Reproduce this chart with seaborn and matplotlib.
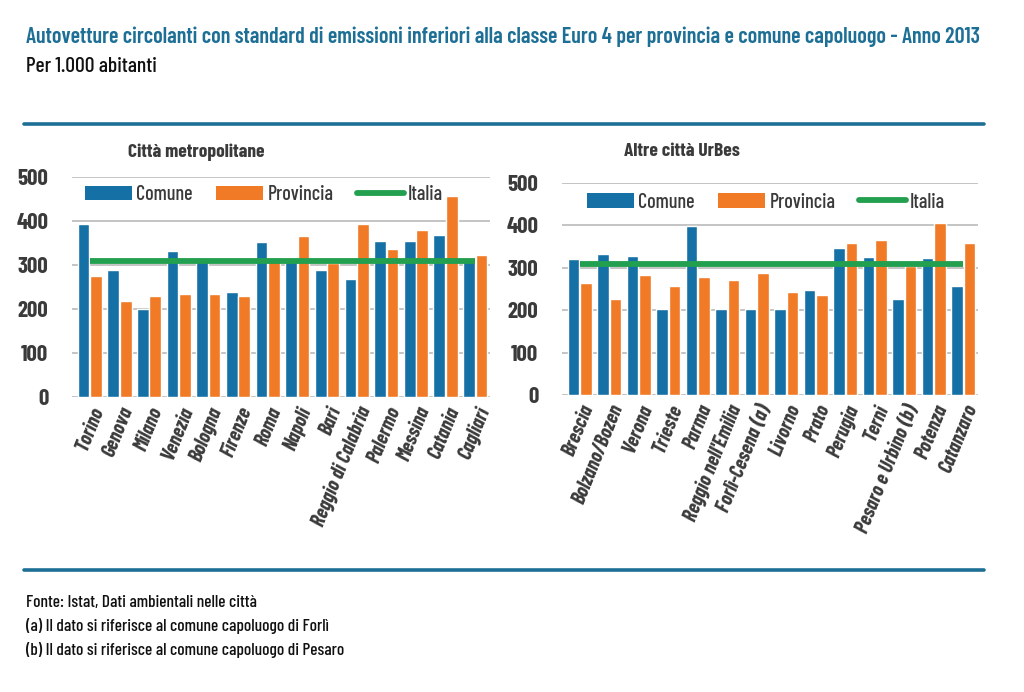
import matplotlib
matplotlib.use("Agg")
import matplotlib.pyplot as plt
import seaborn as sns
import pandas as pd
from matplotlib.patches import Patch
from matplotlib.lines import Line2D
from matplotlib import font_manager as fm

# ---------------- data ----------------
metro_cities = ["Torino", "Genova", "Milano", "Venezia", "Bologna", "Firenze", "Roma",
                "Napoli", "Bari", "Reggio di Calabria", "Palermo", "Messina", "Catania", "Cagliari"]
metro_comune = [393, 288, 201, 332, 308, 239, 353, 310, 288, 268, 355, 355, 368, 310]
metro_provincia = [276, 218, 230, 234, 234, 230, 312, 366, 305, 393, 336, 380, 456, 323]

other_cities = ["Brescia", "Bolzano/Bozen", "Verona", "Trieste", "Parma", "Reggio nell'Emilia",
                "Forlì-Cesena (a)", "Livorno", "Prato", "Perugia", "Terni",
                "Pesaro e Urbino (b)", "Potenza", "Catanzaro"]
other_comune = [320, 332, 328, 202, 398, 204, 202, 204, 248, 346, 326, 227, 322, 258]
other_provincia = [265, 227, 284, 257, 279, 272, 288, 244, 235, 358, 366, 305, 406, 358]

italia_value = 310
series_names = ["Comune", "Provincia", "Italia"]
y_ticks = [0, 100, 200, 300, 400, 500]

title = "Autovetture circolanti con standard di emissioni inferiori alla classe Euro 4 per provincia e comune capoluogo - Anno 2013"
subtitle = "Per 1.000 abitanti"
panel_titles = ["Città metropolitane", "Altre città UrBes"]
notes = ["Fonte: Istat, Dati ambientali nelle città",
         "(a) Il dato si riferisce al comune capoluogo di Forlì",
         "(b) Il dato si riferisce al comune capoluogo di Pesaro"]

# ---------------- style ----------------
sns.set_theme(style="white")
available = {f.name for f in fm.fontManager.ttflist}
fam = [f for f in ["Barlow Condensed", "Barlow Semi Condensed", "DejaVu Sans"] if f in available]
plt.rcParams["font.family"] = fam

C_BLUE = "#1570a6"
C_ORANGE = "#f07a26"
C_GREEN = "#23a04f"
C_TITLE = "#1d6f96"
C_TEXT = "#3a3a3a"

fig = plt.figure(figsize=(10.24, 6.92), dpi=100)

def make_panel(rect, cities, comune, provincia, ptitle, title_x, leg_xy):
    ax = fig.add_axes(rect)
    df = pd.DataFrame({
        "city": cities * 2,
        "serie": ["Comune"] * len(cities) + ["Provincia"] * len(cities),
        "value": comune + provincia,
    })
    sns.barplot(data=df, x="city", y="value", hue="serie", order=cities,
                hue_order=["Comune", "Provincia"],
                palette={"Comune": C_BLUE, "Provincia": C_ORANGE},
                width=0.84, gap=0.06, saturation=1, ax=ax, legend=False, zorder=2)
    dfl = pd.DataFrame({"city": cities, "value": [italia_value] * len(cities)})
    sns.lineplot(data=dfl, x="city", y="value", color=C_GREEN, linewidth=4.2,
                 ax=ax, zorder=3, solid_capstyle="butt")
    ax.set_ylim(0, 500)
    ax.set_xlim(-0.6, len(cities) - 0.5)
    ax.set_yticks(y_ticks)
    ax.yaxis.grid(True, color="#c4c4c4", linewidth=1.4, zorder=0)
    ax.set_axisbelow(True)
    for s in ax.spines.values():
        s.set_visible(False)
    ax.set_xlabel("")
    ax.set_ylabel("")
    ax.tick_params(axis="y", length=0, pad=17, labelsize=16.5, labelcolor=C_TEXT)
    ax.tick_params(axis="x", length=0, pad=5, labelsize=14.5, labelcolor=C_TEXT)
    for lbl in ax.get_yticklabels():
        lbl.set_fontweight("bold")
    ax.set_xticks(range(len(cities)))
    ax.set_xticklabels(cities, rotation=68, ha="right", rotation_mode="anchor",
                       fontweight="bold", fontstyle="italic")
    handles = [Patch(facecolor=C_BLUE, edgecolor="none", label=series_names[0]),
               Patch(facecolor=C_ORANGE, edgecolor="none", label=series_names[1]),
               Line2D([0], [0], color=C_GREEN, linewidth=4.2, label=series_names[2])]
    ax.legend(handles=handles, ncol=3, frameon=False, loc="center left",
              bbox_to_anchor=leg_xy, bbox_transform=fig.transFigure,
              borderpad=0, borderaxespad=0,
              prop={"size": 14.5, "weight": 500}, handlelength=2.35,
              handleheight=0.7, handletextpad=0.2, columnspacing=1.15,
              labelcolor=C_TEXT)
    fig.text(title_x, 1 - 152 / 692, ptitle, fontsize=14, fontweight="bold",
             color=C_TEXT, va="center", ha="left")
    return ax

make_panel([72 / 1024, 1 - 397 / 692, (490 - 72) / 1024, (397 - 177) / 692],
           metro_cities, metro_comune, metro_provincia, panel_titles[0], 128 / 1024,
           (85 / 1024, 1 - 195 / 692))
make_panel([562 / 1024, 1 - 395 / 692, (978 - 562) / 1024, (395 - 183) / 692],
           other_cities, other_comune, other_provincia, panel_titles[1], 624 / 1024,
           (587 / 1024, 1 - 202 / 692))

# titles
fig.text(26 / 1024, 1 - 37 / 692, title, fontsize=15.85, color=C_TITLE,
         fontweight=600, va="center", ha="left")
fig.text(26 / 1024, 1 - 66 / 692, subtitle, fontsize=15.5, color="#111111",
         fontweight=500, va="center", ha="left")

# rules
for yy in (124, 570):
    fig.add_artist(Line2D([24 / 1024, 984 / 1024], [1 - yy / 692, 1 - yy / 692],
                          color=C_TITLE, linewidth=2.6, transform=fig.transFigure))

for i, t in enumerate(notes):
    fig.text(26 / 1024, 1 - (602 + 24 * i) / 692, t, fontsize=12.5, color="#111111",
             fontweight=500, va="center", ha="left")

fig.savefig("out.png", dpi=100, facecolor="white")
